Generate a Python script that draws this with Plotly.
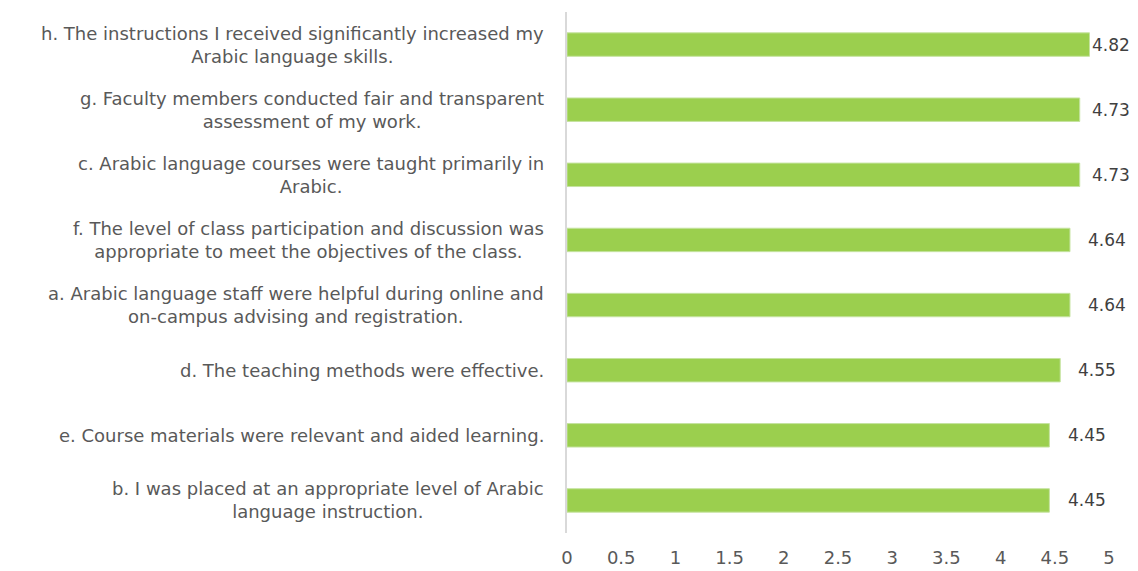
import plotly.graph_objects as go

categories = [
    "h. The instructions I received significantly increased my<br>Arabic language skills.",
    "g. Faculty members conducted fair and transparent<br>assessment of my work.",
    "c. Arabic language courses were taught primarily in<br>Arabic.",
    "f. The level of class participation and discussion was<br>appropriate to meet the objectives of the class.",
    "a. Arabic language staff were helpful during online and<br>on-campus advising and registration.",
    "d. The teaching methods were effective.",
    "e. Course materials were relevant and aided learning.",
    "b. I was placed at an appropriate level of Arabic<br>language instruction.",
]
values = [4.82, 4.73, 4.73, 4.64, 4.64, 4.55, 4.45, 4.45]
x_ticks = [0, 0.5, 1, 1.5, 2, 2.5, 3, 3.5, 4, 4.5, 5]

FONT = "DejaVu Sans"
GRAY = "#595959"
LABEL_GAP = 0.15    # gap between bar end and value label, in axis units
LABEL_MAX = 4.825   # labels never start further right than this

fig = go.Figure()
fig.add_trace(go.Bar(
    x=values,
    y=list(range(len(categories))),
    orientation="h",
    width=0.36,
    marker=dict(color="#9BCF4E", line=dict(color="#C5E3A0", width=1)),
    hoverinfo="skip",
))

for i, c in enumerate(categories):
    fig.add_annotation(
        x=0, xref="paper", y=i, yref="y",
        text=c, showarrow=False,
        xanchor="right", yanchor="middle", align="center",
        xshift=-21,
        font=dict(family=FONT, size=18, color=GRAY),
    )

for i, v in enumerate(values):
    fig.add_annotation(
        x=min(v + LABEL_GAP, LABEL_MAX), xref="x", y=i, yref="y",
        text=f"{v:.2f}", showarrow=False,
        xanchor="left", yanchor="middle",
        font=dict(family=FONT, size=17, color="#404040"),
    )

fig.update_layout(
    width=1130, height=563,
    margin=dict(l=559, r=29, t=4, b=38),
    paper_bgcolor="white", plot_bgcolor="white",
    showlegend=False,
)
fig.update_xaxes(
    range=[0, 5], tickvals=x_ticks, ticktext=[f"{t:g}" for t in x_ticks],
    showgrid=False, zeroline=False, showline=False,
    tickfont=dict(family=FONT, size=18, color=GRAY),
    ticklabelstandoff=12,
)
fig.update_yaxes(
    range=[len(categories) - 0.5, -0.5],
    showticklabels=False, showgrid=False, zeroline=False,
    showline=True, linecolor="#D9D9D9", linewidth=2,
)

fig.write_html("out.html", config={"displayModeBar": False})
